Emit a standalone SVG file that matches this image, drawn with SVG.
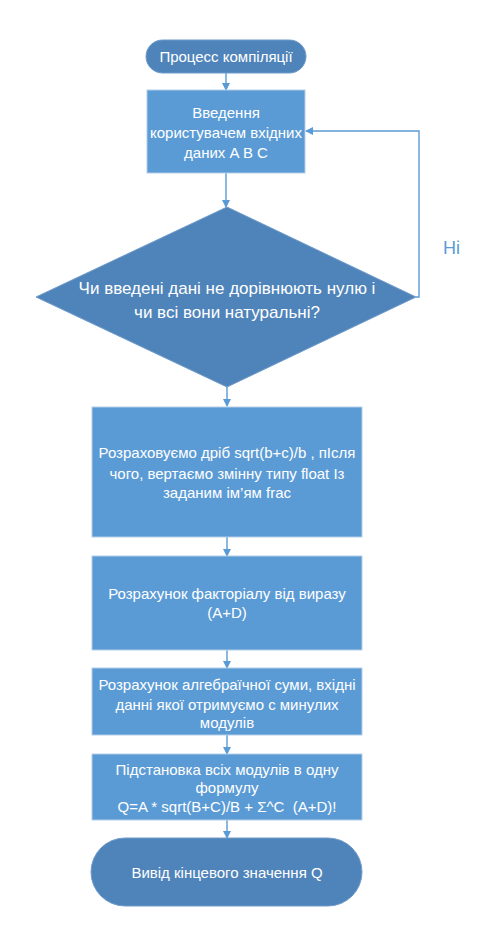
<svg xmlns="http://www.w3.org/2000/svg" width="492" height="933" viewBox="0 0 492 933">
<defs>
<style>
.t{font-family:"Liberation Sans",Arial,sans-serif;font-size:15px;fill:#ffffff;text-anchor:middle}
.big{font-size:17px}
.box{fill:#5B9BD5;stroke:#B4CDE8;stroke-width:1}
.dark{fill:#4F84BA;stroke:#6F9BCB;stroke-width:1}
.c{fill:none;stroke:#5B9BD5;stroke-width:1.4}
.lbl{font-family:"Liberation Sans",Arial,sans-serif;font-size:18px;fill:#5B9BD5}
</style>
<marker id="ah" markerWidth="8" markerHeight="8" refX="7" refY="4" orient="auto" markerUnits="userSpaceOnUse">
<path d="M0,0 L8,4 L0,8 Z" fill="#5B9BD5"/>
</marker>
</defs>
<rect width="492" height="933" fill="#ffffff"/>
<g id="connectors">
<line class="c" x1="226" y1="73" x2="226" y2="90" marker-end="url(#ah)"/>
<line class="c" x1="226" y1="173" x2="226" y2="207" marker-end="url(#ah)"/>
<polyline class="c" points="416,297 419,297 419,131 306,131" marker-end="url(#ah)"/>
<line class="c" x1="227" y1="387" x2="227" y2="406" marker-end="url(#ah)"/>
<line class="c" x1="227" y1="537" x2="227" y2="556" marker-end="url(#ah)"/>
<line class="c" x1="227" y1="650" x2="227" y2="668" marker-end="url(#ah)"/>
<line class="c" x1="227" y1="735" x2="227" y2="754" marker-end="url(#ah)"/>
<line class="c" x1="227" y1="820" x2="227" y2="838" marker-end="url(#ah)"/>
<text class="lbl" x="443" y="254">Ні</text>
</g>
<g id="start">
<rect class="dark" x="146" y="40" width="160" height="33" rx="16.5"/>
<text class="t" x="226" y="62">Процесс компіляції</text>
</g>
<g id="input">
<rect class="box" x="147" y="90" width="158" height="83"/>
<text class="t" x="226" y="118">Введення</text>
<text class="t" x="226" y="138">користувачем вхідних</text>
<text class="t" x="226" y="158">даних A B C</text>
</g>
<g id="check">
<polygon class="dark" points="227,207 416,297 227,387 36,297"/>
<text class="t big" x="227" y="294">Чи введені дані не дорівнюють нулю і</text>
<text class="t big" x="227" y="318">чи всі вони натуральні?</text>
</g>
<g id="frac">
<rect class="box" x="92" y="407" width="270" height="130"/>
<text class="t" x="227" y="458">Розраховуємо дріб sqrt(b+c)/b , пІсля</text>
<text class="t" x="227" y="479">чого, вертаємо змінну типу float Із</text>
<text class="t" x="227" y="498">заданим ім’ям frac</text>
</g>
<g id="factorial">
<rect class="box" x="92" y="556" width="270" height="94"/>
<text class="t" x="227" y="599">Розрахунок факторіалу від виразу</text>
<text class="t" x="227" y="618">(A+D)</text>
</g>
<g id="sum">
<rect class="box" x="92" y="668" width="270" height="67"/>
<text class="t" x="227" y="690">Розрахунок алгебраїчної суми, вхідні</text>
<text class="t" x="227" y="710">данні якої отримуємо с минулих</text>
<text class="t" x="227" y="728">модулів</text>
</g>
<g id="formula">
<rect class="box" x="92" y="754" width="270" height="66"/>
<text class="t" x="227" y="775">Підстановка всіх модулів в одну</text>
<text class="t" x="227" y="793">формулу</text>
<text class="t" x="227" y="812" xml:space="preserve">Q=A * sqrt(B+C)/B + Σ^C  (A+D)!</text>
</g>
<g id="end">
<rect class="dark" x="91" y="838" width="271" height="68" rx="34"/>
<text class="t" x="227" y="878">Вивід кінцевого значення Q</text>
</g>
</svg>
